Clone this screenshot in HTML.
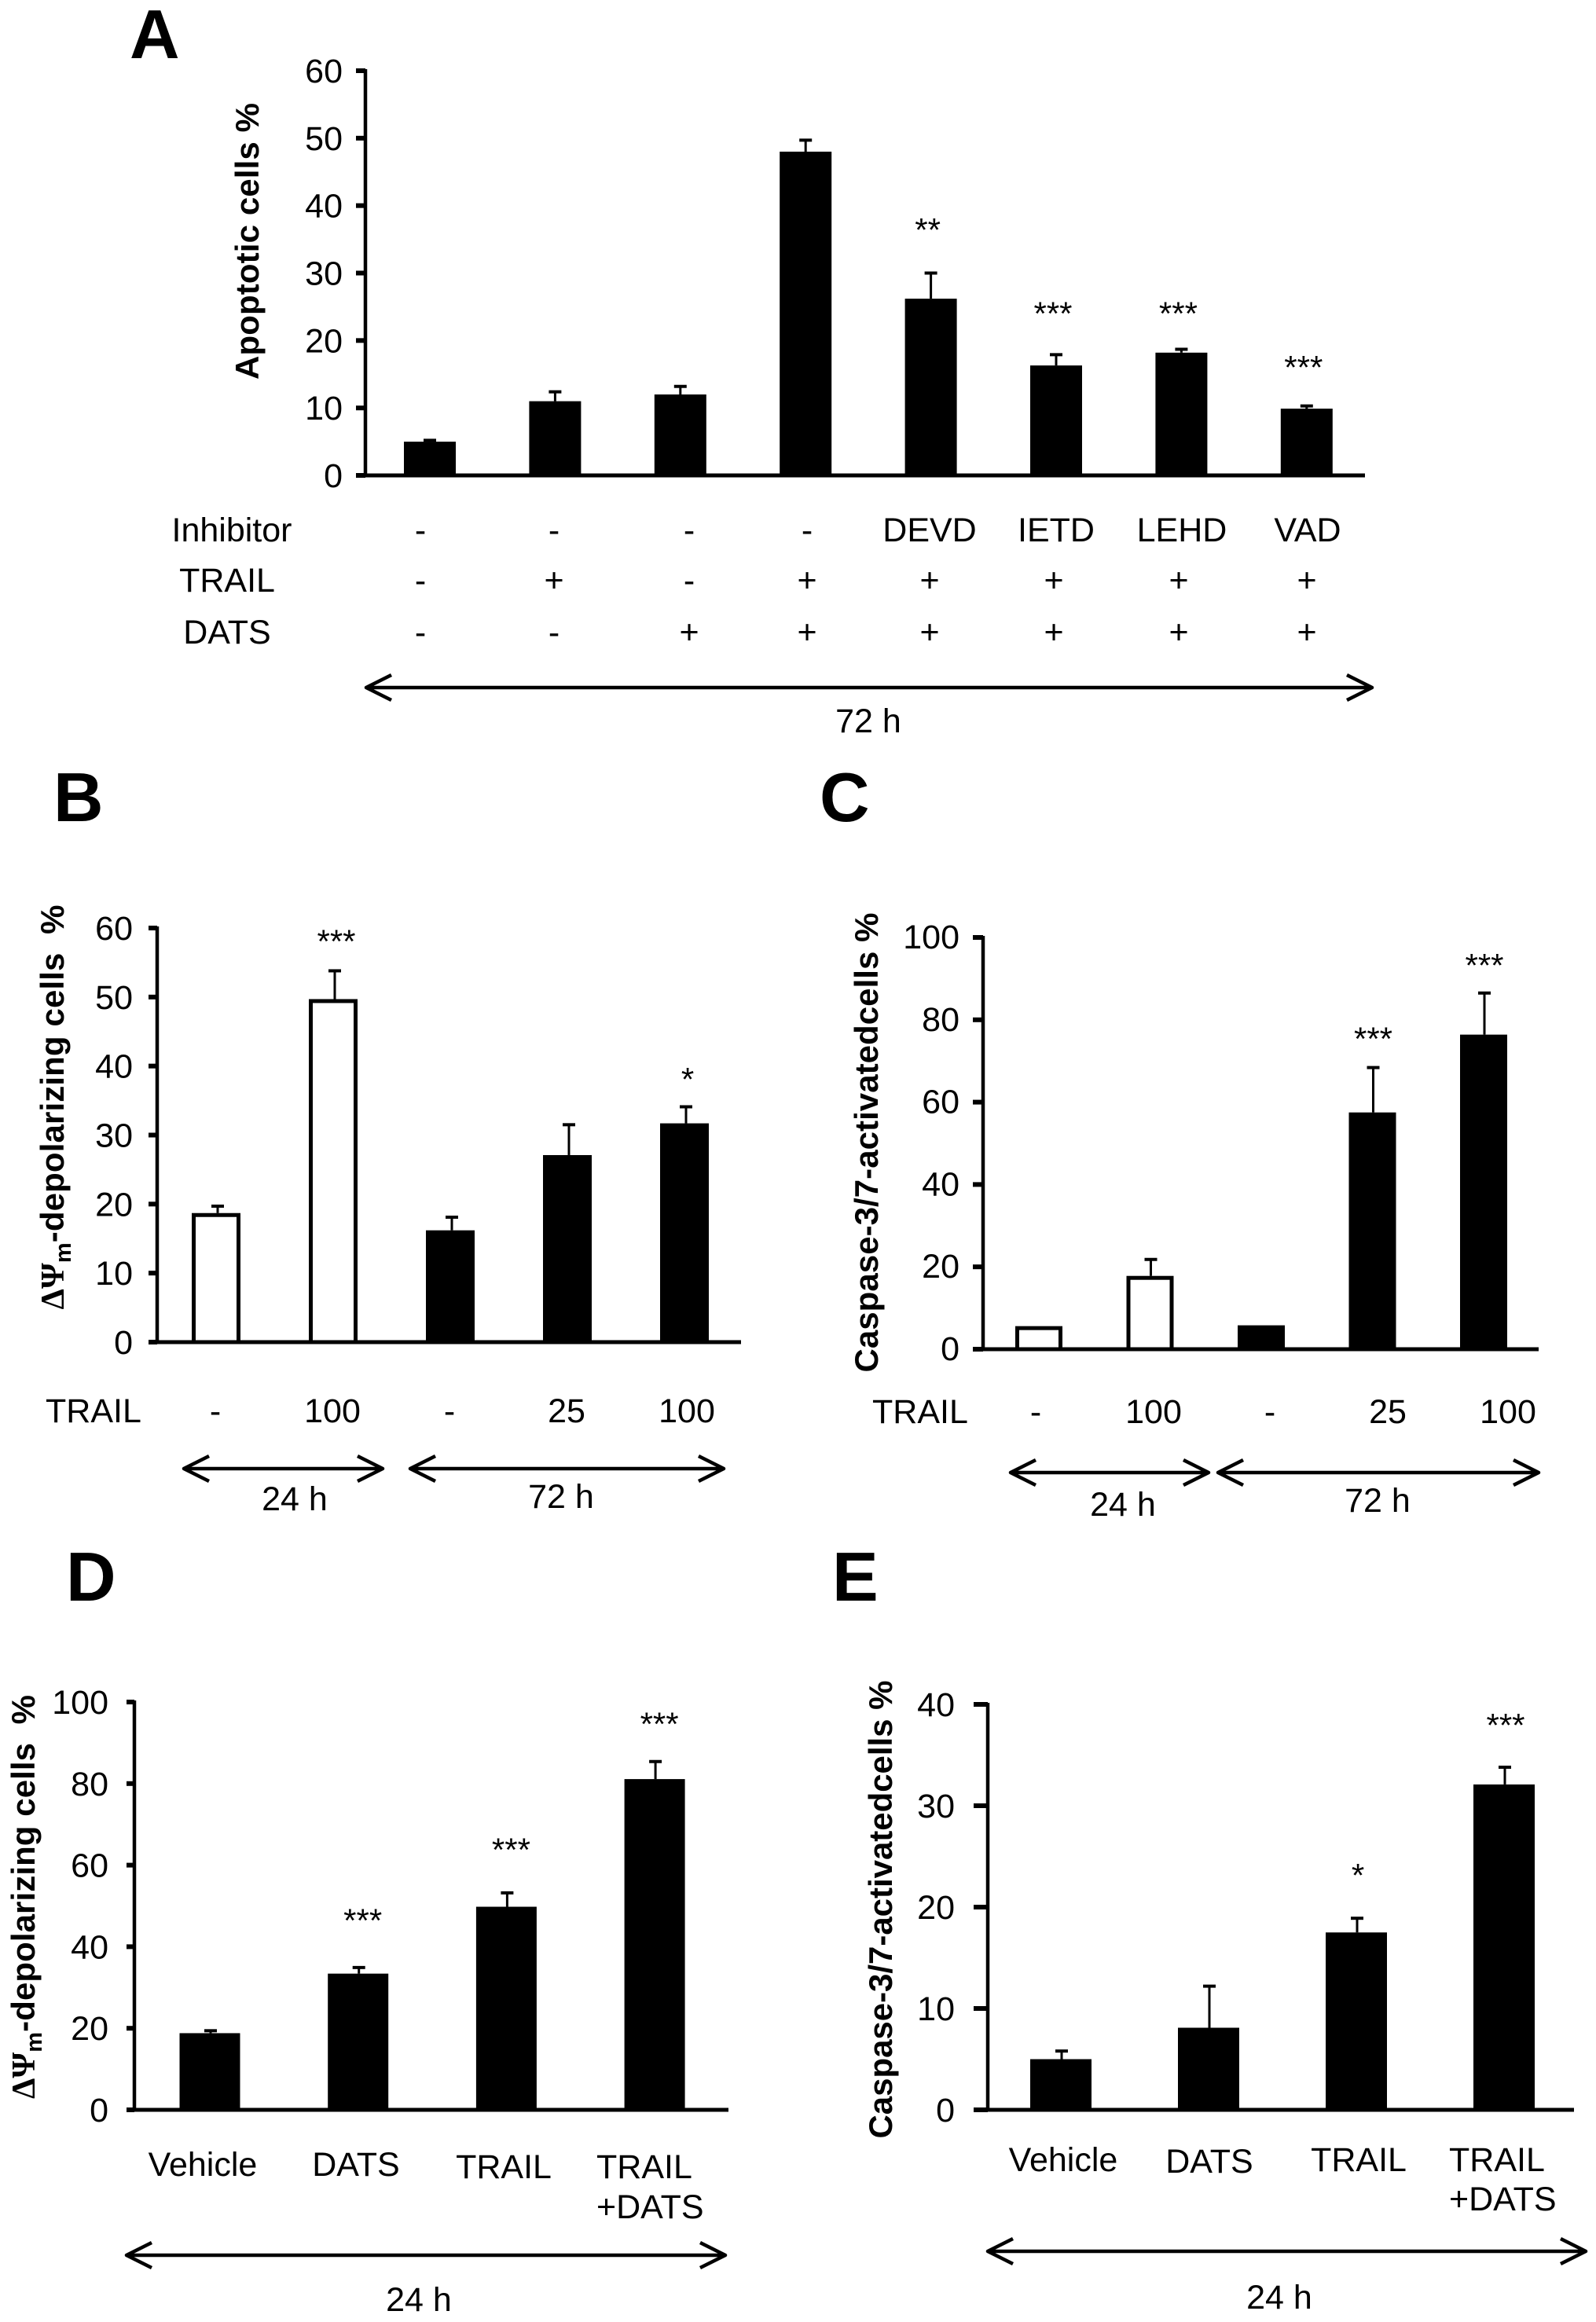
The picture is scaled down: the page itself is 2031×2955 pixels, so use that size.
<!DOCTYPE html>
<html lang="en">
<head>
<meta charset="utf-8">
<title>Apoptosis bar charts</title>
<style>
html,body{margin:0;padding:0;background:#fff;}
svg{display:block;}
text{font-family:"Liberation Sans",sans-serif;fill:#000;}
.lab{font-size:43px;}
.mid{text-anchor:middle;}
.let{font-size:88px;font-weight:bold;}
.ttl{font-size:42px;font-weight:bold;text-anchor:middle;}
.sym{font-family:"Liberation Serif",serif;}
.arr{fill:none;stroke:#000;stroke-width:4.5;stroke-linejoin:round;}
</style>
</head>
<body>
<svg id="fig" xmlns="http://www.w3.org/2000/svg" width="2031" height="2955" viewBox="0 0 2031 2955">
<rect width="2031" height="2955" fill="#fff"/>

<g id="panel-a">
<text class="let" x="165" y="74">A</text>
<text class="ttl" transform="rotate(-90 329 307)" x="329" y="307" textLength="352">Apoptotic cells %</text>
<g class="lab mid">
<text x="295" y="689">Inhibitor</text>
<text x="535" y="689">-</text>
<text x="705" y="689">-</text>
<text x="877" y="689">-</text>
<text x="1027" y="689">-</text>
<text x="1183" y="689">DEVD</text>
<text x="1344" y="689">IETD</text>
<text x="1504" y="689">LEHD</text>
<text x="1664" y="689">VAD</text>
</g>
<g class="lab mid">
<text x="289" y="753">TRAIL</text>
<text x="535" y="753">-</text>
<text x="705" y="753">+</text>
<text x="877" y="753">-</text>
<text x="1027" y="753">+</text>
<text x="1183" y="753">+</text>
<text x="1341" y="753">+</text>
<text x="1500" y="753">+</text>
<text x="1663" y="753">+</text>
</g>
<g class="lab mid">
<text x="289" y="819">DATS</text>
<text x="535" y="819">-</text>
<text x="705" y="819">-</text>
<text x="877" y="819">+</text>
<text x="1027" y="819">+</text>
<text x="1183" y="819">+</text>
<text x="1341" y="819">+</text>
<text x="1500" y="819">+</text>
<text x="1663" y="819">+</text>
</g>
<path class="arr" d="M498 859L466 875L498 891M466 875H1746M1714 859L1746 875L1714 891"/>
<text class="lab mid" x="1105" y="932">72 h</text>
</g>

<g id="panel-b">
<text class="let" x="68" y="1045">B</text>
<text class="ttl" transform="rotate(-90 81 1409)" x="81" y="1409" textLength="515"><tspan class="sym">ΔΨ</tspan><tspan dy="9" font-size="29">m</tspan><tspan dy="-9">-depolarizing cells&#160;&#160;%</tspan></text>
<text class="lab" x="58" y="1810">TRAIL</text>
<g class="lab mid">
<text x="274" y="1810">-</text>
<text x="423" y="1810">100</text>
<text x="572" y="1810">-</text>
<text x="721" y="1810">25</text>
<text x="874" y="1810">100</text>
</g>
<path class="arr" d="M266 1853L234 1869L266 1885M234 1869H487M455 1853L487 1869L455 1885"/>
<path class="arr" d="M554 1853L522 1869L554 1885M522 1869H921M889 1853L921 1869L889 1885"/>
<text class="lab mid" x="375" y="1922">24 h</text>
<text class="lab mid" x="714" y="1919">72 h</text>
</g>

<g id="panel-c">
<text class="let" x="1043" y="1045">C</text>
<text class="ttl" transform="rotate(-90 1117 1454)" x="1117" y="1454" textLength="585">Caspase-3/7-activatedcells %</text>
<text class="lab" x="1110" y="1811">TRAIL</text>
<g class="lab mid">
<text x="1318" y="1811">-</text>
<text x="1468" y="1811">100</text>
<text x="1616" y="1811">-</text>
<text x="1766" y="1811">25</text>
<text x="1919" y="1811">100</text>
</g>
<path class="arr" d="M1318 1858L1286 1874L1318 1890M1286 1874H1538M1506 1858L1538 1874L1506 1890"/>
<path class="arr" d="M1582 1858L1550 1874L1582 1890M1550 1874H1958M1926 1858L1958 1874L1926 1890"/>
<text class="lab mid" x="1429" y="1929">24 h</text>
<text class="lab mid" x="1753" y="1924">72 h</text>
</g>

<g id="panel-d">
<text class="let" x="84" y="2037">D</text>
<text class="ttl" transform="rotate(-90 44 2414)" x="44" y="2414" textLength="514"><tspan class="sym">ΔΨ</tspan><tspan dy="9" font-size="29">m</tspan><tspan dy="-9">-depolarizing cells&#160;&#160;%</tspan></text>
<g class="lab">
<text class="mid" x="258" y="2769">Vehicle</text>
<text class="mid" x="453" y="2769">DATS</text>
<text class="mid" x="641" y="2772">TRAIL</text>
<text x="759" y="2772">TRAIL</text>
<text x="759" y="2823">+DATS</text>
</g>
<path class="arr" d="M193 2854L161 2870L193 2886M161 2870H923M891 2854L923 2870L891 2886"/>
<text class="lab mid" x="533" y="2941">24 h</text>
</g>

<g id="panel-e">
<text class="let" x="1059" y="2037">E</text>
<text class="ttl" transform="rotate(-90 1135 2430)" x="1135" y="2430" textLength="583">Caspase-3/7-activatedcells %</text>
<g class="lab">
<text class="mid" x="1353" y="2763">Vehicle</text>
<text class="mid" x="1539" y="2765">DATS</text>
<text class="mid" x="1729" y="2763">TRAIL</text>
<text x="1844" y="2763">TRAIL</text>
<text x="1844" y="2813">+DATS</text>
</g>
<path class="arr" d="M1289 2849L1257 2865L1289 2881M1257 2865H2018M1986 2849L2018 2865L1986 2881"/>
<text class="lab mid" x="1628" y="2938">24 h</text>
</g>
</svg>

<script>
// Panel A data
const aCategories = ['control', 'trail', 'dats', 'trail-dats', 'devd', 'ietd', 'lehd', 'vad'];
const aValues = [5, 11, 12, 48, 26.2, 16.3, 18.2, 9.9];
const aErrorTops = [5.2, 12.4, 13.2, 49.7, 30, 17.9, 18.7, 10.3];
const aStars = ['', '', '', '', '**', '***', '***', '***'];
const aStarLevels = [0, 0, 0, 0, 37.3, 24.9, 24.9, 16.9];
const aTicks = [0, 10, 20, 30, 40, 50, 60];

// Panel B data
const bCategories = ['24h-control', '24h-100', '72h-control', '72h-25', '72h-100'];
const bValues = [18.7, 49.7, 16.2, 27.1, 31.7];
const bErrorTops = [19.7, 53.8, 18.1, 31.5, 34.1];
const bStars = ['', '***', '', '', '*'];
const bStarLevels = [0, 58.7, 0, 0, 38.7];
const bHollow = [true, true, false, false, false];
const bTicks = [0, 10, 20, 30, 40, 50, 60];

// Panel C data
const cCategories = ['24h-control', '24h-100', '72h-control', '72h-25', '72h-100'];
const cValues = [5.6, 17.8, 5.8, 57.5, 76.4];
const cErrorTops = [null, 21.8, null, 68.4, 86.5];
const cStars = ['', '', '', '***', '***'];
const cStarLevels = [0, 0, 0, 76.4, 94.3];
const cHollow = [true, true, false, false, false];
const cTicks = [0, 20, 40, 60, 80, 100];

// Panel D data
const dCategories = ['vehicle', 'dats', 'trail', 'trail-dats'];
const dValues = [18.8, 33.4, 49.8, 81.1];
const dErrorTops = [19.4, 34.9, 53.2, 85.4];
const dStars = ['', '***', '***', '***'];
const dStarLevels = [0, 47.5, 64.8, 95.7];
const dTicks = [0, 20, 40, 60, 80, 100];

// Panel E data
const eCategories = ['vehicle', 'dats', 'trail', 'trail-dats'];
const eValues = [5, 8.1, 17.5, 32.1];
const eErrorTops = [5.8, 12.2, 18.9, 33.8];
const eStars = ['', '', '*', '***'];
const eStarLevels = [0, 0, 23.5, 38.3];
const eTicks = [0, 10, 20, 30, 40];

const NS = 'http://www.w3.org/2000/svg';

function shape(parent, tag, attrs) {
  const el = document.createElementNS(NS, tag);
  for (const k in attrs) el.setAttribute(k, attrs[k]);
  parent.appendChild(el);
  return el;
}

function drawPanel(id, geo, categories, values, errorTops, stars, starLevels, ticks, hollow) {
  const root = document.getElementById('panel-' + id);
  const yMax = ticks[ticks.length - 1];
  const yScale = v => geo.y0 - (v / yMax) * (geo.y0 - geo.yTop);
  const xBand = i => geo.first + i * geo.step;

  const yAxis = shape(root, 'line', {x1: geo.axisX, x2: geo.axisX, y1: geo.yTop - 2, y2: geo.y0, stroke: '#000', 'stroke-width': 4.5});
  
  

  ticks.forEach(t => {
    const tick = shape(root, 'line', {x1: geo.tickX, x2: geo.axisX, y1: yScale(t), y2: yScale(t), stroke: '#000', 'stroke-width': 6});
    
    
    const lab = shape(root, 'text', {x: geo.labelX, y: yScale(t) + geo.labelDy, 'text-anchor': 'end', 'font-size': 43});
    lab.textContent = t;
    
    
  });

  values.forEach((v, i) => {
    const cx = xBand(i);
    const isHollow = hollow && hollow[i];
    const top = yScale(v);
    const inset = isHollow ? 2.5 : 0;
    const bar = shape(root, 'rect', {
      x: cx - geo.barW / 2 + inset, y: top + inset,
      width: geo.barW - 2 * inset, height: Math.max(0, geo.y0 - top - inset),
      fill: isHollow ? '#fff' : '#000', stroke: isHollow ? '#000' : 'none', 'stroke-width': isHollow ? 5 : 0
    });
    
    

    if (errorTops[i] !== null) {
      const ey = yScale(errorTops[i]);
      const stem = shape(root, 'line', {x1: cx + geo.errDx, x2: cx + geo.errDx, y1: top, y2: ey, stroke: '#000', 'stroke-width': 3});
      
      
      const cap = shape(root, 'line', {x1: cx + geo.errDx - 8, x2: cx + geo.errDx + 8, y1: ey, y2: ey, stroke: '#000', 'stroke-width': 4});
      
      
    }

    if (stars[i]) {
      const star = shape(root, 'text', {x: cx + geo.starDx, y: yScale(starLevels[i]) + geo.starOff, 'text-anchor': 'middle', 'font-size': 42});
      star.textContent = stars[i];
      
      
    }
  });

  const xAxis = shape(root, 'line', {x1: geo.axisX - 2, x2: geo.xEnd, y1: geo.y0, y2: geo.y0, stroke: '#000', 'stroke-width': 5});
  
  
}

drawPanel('a', {axisX: 465, tickX: 453, labelX: 436, labelDy: 15, yTop: 90, y0: 605, xEnd: 1737, first: 547, step: 159.4, barW: 66, errDx: 0, starDx: -4, starOff: 22},
  aCategories, aValues, aErrorTops, aStars, aStarLevels, aTicks);
drawPanel('b', {axisX: 200, tickX: 189, labelX: 169, labelDy: 15, yTop: 1181, y0: 1708, xEnd: 943, first: 275, step: 149, barW: 62, errDx: 2, starDx: 4, starOff: 20},
  bCategories, bValues, bErrorTops, bStars, bStarLevels, bTicks, bHollow);
drawPanel('c', {axisX: 1251, tickX: 1238, labelX: 1221, labelDy: 14, yTop: 1193, y0: 1717, xEnd: 1958, first: 1322, step: 141.5, barW: 60, errDx: 1, starDx: 1, starOff: 20},
  cCategories, cValues, cErrorTops, cStars, cStarLevels, cTicks, cHollow);
drawPanel('d', {axisX: 171, tickX: 161, labelX: 138, labelDy: 15, yTop: 2166, y0: 2685, xEnd: 927, first: 267, step: 188.7, barW: 77, errDx: 1, starDx: 6, starOff: 20},
  dCategories, dValues, dErrorTops, dStars, dStarLevels, dTicks);
drawPanel('e', {axisX: 1257, tickX: 1239, labelX: 1215, labelDy: 15, yTop: 2169, y0: 2685, xEnd: 2003, first: 1350, step: 188, barW: 78, errDx: 1, starDx: 2, starOff: 19},
  eCategories, eValues, eErrorTops, eStars, eStarLevels, eTicks);
</script>
</body>
</html>
